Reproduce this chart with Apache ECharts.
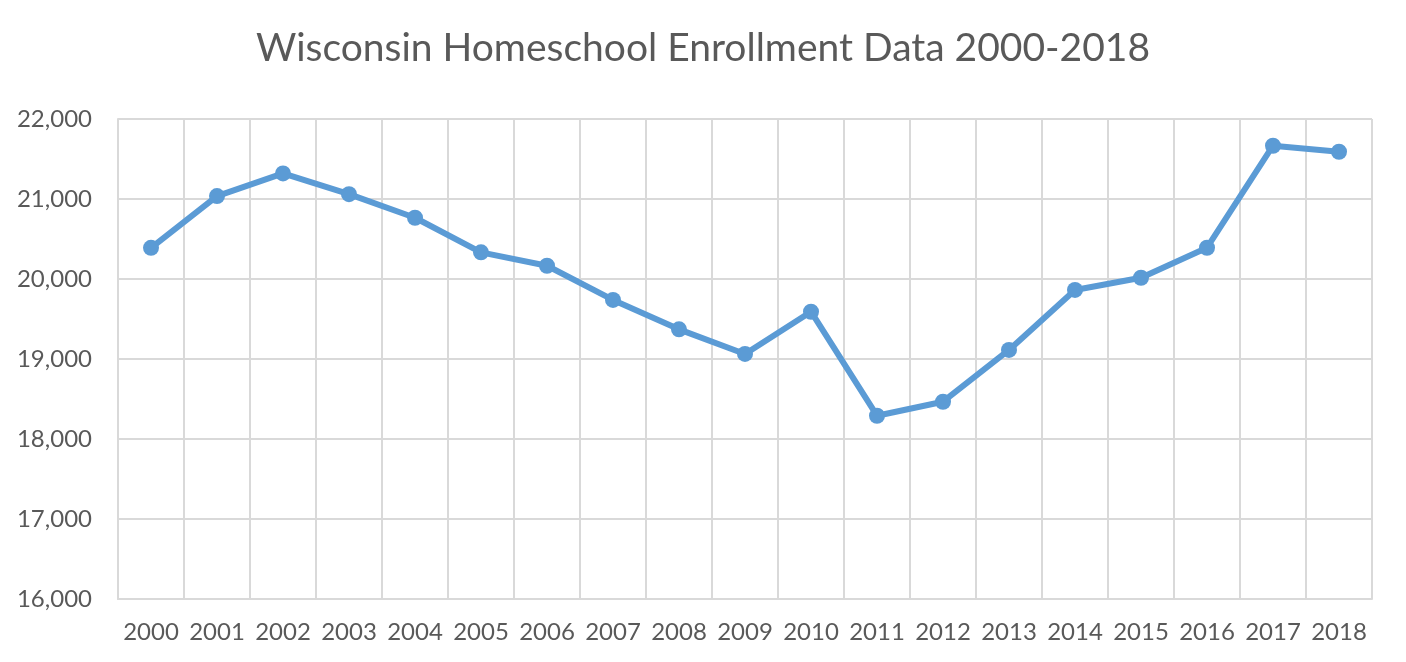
<!DOCTYPE html>
<html>
<head>
<meta charset="utf-8">
<script src="https://cdn.jsdelivr.net/npm/echarts@6/dist/echarts.min.js"></script>
<style>
  html, body { margin: 0; padding: 0; background: #fff; }
  #chart { width: 1406px; height: 662px; }
</style>
</head>
<body>
<div id="chart"></div>
<script>
// years on the x axis
const years = ['2000', '2001', '2002', '2003', '2004', '2005', '2006', '2007', '2008', '2009',
  '2010', '2011', '2012', '2013', '2014', '2015', '2016', '2017', '2018'];
// homeschool enrollment
const enrollment = [20390, 21037, 21320, 21060, 20766, 20333, 20166, 19738, 19371, 19063,
  19591, 18291, 18466, 19113, 19863, 20016, 20391, 21666, 21591];

const chart = echarts.init(document.getElementById('chart'), null, { renderer: 'canvas' });
const txt = '#595959';
const gridColor = '#d9d9d9';

const option = {
  animation: false,
  title: {
    text: 'Wisconsin Homeschool Enrollment Data 2000-2018',
    left: 'center',
    top: 24,
    textStyle: { fontFamily: 'Lato', fontSize: 39, fontWeight: 'normal', color: txt }
  },
  grid: { left: 118, right: 34, top: 119, bottom: 63 },
  xAxis: {
    type: 'category',
    data: years,
    boundaryGap: true,
    axisLine: { show: true, lineStyle: { color: gridColor, width: 2 } },
    axisTick: { show: false },
    axisLabel: { interval: 0, color: txt, fontFamily: 'Lato', fontSize: 24, margin: 21 },
    splitLine: { show: true, interval: 0, lineStyle: { color: gridColor, width: 2 } }
  },
  yAxis: {
    type: 'value',
    min: 16000,
    max: 22000,
    interval: 1000,
    axisLine: { show: true, lineStyle: { color: gridColor, width: 2 } },
    axisTick: { show: false },
    axisLabel: {
      color: txt, fontFamily: 'Lato', fontSize: 24, margin: 26,
      formatter: v => v.toLocaleString('en-US')
    },
    splitLine: { show: true, lineStyle: { color: gridColor, width: 2 } }
  },
  series: [{
    type: 'line',
    data: enrollment,
    symbol: 'circle',
    symbolSize: 16,
    lineStyle: { color: '#5b9bd5', width: 6 },
    itemStyle: { color: '#5b9bd5' }
  }]
};
chart.setOption(option);
</script>
</body>
</html>
